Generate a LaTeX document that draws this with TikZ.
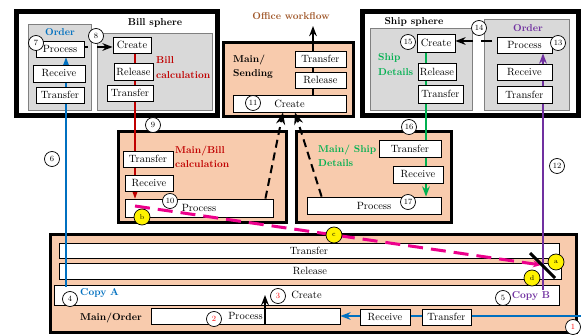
\documentclass[tikz,border=0pt]{standalone}
\usepackage{tikz}
\usetikzlibrary{calc}
\usetikzlibrary{arrows.meta, positioning}
\usepackage{xcolor}
\definecolor{peach}{HTML}{F8CBAD}
\definecolor{sphgrey}{HTML}{D9D9D9}
\definecolor{mblue}{HTML}{0070C0}
\definecolor{mred}{HTML}{C00000}
\definecolor{mgreen}{HTML}{00B050}
\definecolor{mpurple}{HTML}{7030A0}
\definecolor{mbrown}{HTML}{A0582A}
\definecolor{numred}{HTML}{FF0000}
\pgfdeclarelayer{frames}
\pgfdeclarelayer{links}
\pgfsetlayers{frames,links,main}

\begin{document}
\begin{tikzpicture}[
    x=1pt, y=-1pt,
    >=Stealth,
    % Frames
    sphere_box/.style={draw=black, line width=5pt, fill=white, inner sep=0pt},
    grey_box/.style={draw=black!50, fill=sphgrey, line width=0.8pt, inner sep=0pt},
    main_box/.style={draw=black, line width=3pt, fill=peach, inner sep=0pt},
    step_box/.style={draw=black, fill=white, line width=0.8pt, inner sep=0pt, font=\fontsize{10.5}{12}\selectfont},
    % Marks
    num_mark/.style={circle, draw=black, fill=white, line width=0.7pt, inner sep=0pt, minimum size=15pt, font=\footnotesize},
    letter_mark/.style={circle, draw=black, fill=yellow, line width=0.7pt, inner sep=0pt, minimum size=16pt, font=\scriptsize},
    title_label/.style={font=\bfseries, align=left, inner sep=0pt},
    flow_line/.style={line width=1.6pt},
    dash_line/.style={line width=2pt, dash pattern=on 8pt off 5pt}
]
    \useasboundingbox (0,0) rectangle (581,336);

    % --- 1. FRAMES ---
    \begin{pgfonlayer}{frames}
    \node[sphere_box, minimum width=201pt, minimum height=104pt] (bill_sphere) at (116.5,64) {};
    \node[grey_box, minimum width=63pt, minimum height=86pt] (bill_order) at (59.5,67) {};
    \node[grey_box, minimum width=115pt, minimum height=77pt] (bill_calc) at (154.5,71.5) {};

    \node[sphere_box, minimum width=216pt, minimum height=104pt] (ship_sphere) at (470,64) {};
    \node[grey_box, minimum width=102pt, minimum height=82pt] (ship_details) at (421,69) {};
    \node[grey_box, minimum width=85pt, minimum height=91pt] (ship_order) at (526.5,64.5) {};

    \node[main_box, minimum width=130pt, minimum height=74pt] (main_sending) at (288,80) {};
    \node[main_box, minimum width=168pt, minimum height=91pt] (main_bill) at (202,177.5) {};
    \node[main_box, minimum width=155pt, minimum height=91pt] (main_ship) at (373.5,177.5) {};
    \node[main_box, minimum width=526pt, minimum height=98pt] (main_order) at (313,284) {};

    \node[step_box, minimum width=500pt, minimum height=15pt] (o_transfer_bar) at (309,250.5) {Transfer};
    \node[step_box, minimum width=502pt, minimum height=16pt] (o_release_bar) at (310,271) {Release};
    \node[step_box, minimum width=505pt, minimum height=20pt] (o_create_bar) at (306.5,295) {Create};
    \end{pgfonlayer}

    % --- 2. STEPS ---
    \node[step_box, minimum width=48pt, minimum height=16pt] (bo_process) at (60,49) {Process};
    \node[step_box, minimum width=52pt, minimum height=17pt] (bo_receive) at (59,73.5) {Receive};
    \node[step_box, minimum width=48pt, minimum height=16pt] (bo_transfer) at (60,95) {Transfer};
    \node[step_box, minimum width=38pt, minimum height=16pt] (bc_create) at (132,45) {Create};
    \node[step_box, minimum width=39pt, minimum height=17pt] (bc_release) at (133.5,71.5) {Release};
    \node[step_box, minimum width=46pt, minimum height=16pt] (bc_transfer) at (130,93) {Transfer};

    \node[step_box, minimum width=38pt, minimum height=18pt] (sd_create) at (436,43) {Create};
    \node[step_box, minimum width=38pt, minimum height=17pt] (sd_release) at (437,71.5) {Release};
    \node[step_box, minimum width=45pt, minimum height=18pt] (sd_transfer) at (440.5,94) {Transfer};
    \node[step_box, minimum width=55pt, minimum height=16pt] (so_process) at (524.5,45) {Process};
    \node[step_box, minimum width=55pt, minimum height=16pt] (so_receive) at (524.5,72) {Receive};
    \node[step_box, minimum width=55pt, minimum height=17pt] (so_transfer) at (524.5,94.5) {Transfer};

    \node[step_box, minimum width=51pt, minimum height=16pt] (ms_transfer) at (320.5,59) {Transfer};
    \node[step_box, minimum width=51pt, minimum height=16pt] (ms_release) at (320.5,80) {Release};
    \node[step_box, minimum width=113pt, minimum height=17pt] (ms_create) at (289.5,103.5) {Create};

    \node[step_box, minimum width=50pt, minimum height=16pt] (mb_transfer) at (148,159) {Transfer};
    \node[step_box, minimum width=48pt, minimum height=16pt] (mb_receive) at (149,183) {Receive};
    \node[step_box, minimum width=148pt, minimum height=18pt] (mb_process) at (199,208) {Process};

    \node[step_box, minimum width=62pt, minimum height=17pt] (msh_transfer) at (410,148.5) {Transfer};
    \node[step_box, minimum width=50pt, minimum height=17pt] (msh_receive) at (418,174.5) {Receive};
    \node[step_box, minimum width=134pt, minimum height=17pt] (msh_process) at (374,205.5) {Process};

    \node[step_box, minimum width=189pt, minimum height=16pt] (o_process) at (245.5,316) {Process};
    \node[step_box, minimum width=50pt, minimum height=16pt] (o_receive) at (385,317) {Receive};
    \node[step_box, minimum width=49pt, minimum height=16pt] (o_transfer) at (446.5,317) {Transfer};

    % --- 3. LABELS ---
    \node[title_label] (bill_title) at (155,23) {Bill sphere};
    \node[title_label, text=mblue] (bill_order_title) at (60,32) {Order};
    \node[title_label, text=mred, anchor=west] (bill_calc_title) at (156,67.5) {Bill\\[2.5pt]calculation};
    \node[title_label, text=mbrown] (office_title) at (291,16) {Office workflow};
    \node[title_label, anchor=west] (sending_title) at (233,67) {Main/\\[2pt]Sending};
    \node[title_label] (ship_title) at (414,22) {Ship sphere};
    \node[title_label, text=mgreen, anchor=west] (ship_details_title) at (378,64.5) {Ship\\[2.5pt]Details};
    \node[title_label, text=mpurple] (ship_order_title) at (528,28) {Order};
    \node[title_label, text=mred, anchor=west] (main_bill_title) at (175,156.5) {Main/Bill\\[2pt]calculation};
    \node[title_label, text=mgreen, anchor=west] (main_ship_title) at (318,156) {Main/ Ship\\[2pt]Details};
    \node[title_label] (main_order_title) at (111,318) {Main/Order};
    \node[title_label, text=mblue, anchor=west] (copy_a_title) at (80,293) {Copy A};
    \node[title_label, text=mpurple] (copy_b_title) at (531,296) {Copy B};

    % --- 4. LINKS ---
    \coordinate (copy_a) at (66,287);
    \coordinate (copy_b) at (543,290);
    \coordinate (order_in) at (581,316);
    \coordinate (office_out) at (313,26);
    \coordinate (bill_cut) at (88,47);
    \coordinate (ship_cut) at (481,41);
    \coordinate (order_up) at (265,325);

    \begin{pgfonlayer}{links}
    \draw[flow_line, draw=mblue, ->] (copy_a) -- (copy_a |- bo_process.south);
    \draw[flow_line, draw=mblue, ->] (order_in) -- (o_process.east);
    \draw[flow_line, draw=mred, ->] ([xshift=3pt]bc_create.south) -- ([xshift=3pt]bc_create.south |- mb_process.north);
    \draw[flow_line, draw=mgreen, ->] ([xshift=-10pt]sd_create.south) -- ([xshift=-10pt]sd_create.south |- msh_process.north);
    \draw[flow_line, draw=mpurple, ->] (copy_b) -- (copy_b |- so_process.south);
    \draw[flow_line, ->] (office_out |- ms_create.north) -- (office_out);

    \draw[flow_line] (bo_process.east |- bill_cut) -- (bill_cut);
    \draw[flow_line, ->] ([xshift=9pt]bill_cut) -- (bc_create.west |- bill_cut);
    \draw[flow_line] ([xshift=11pt]ship_cut) -- (ship_cut);
    \draw[flow_line, ->] ([xshift=-8pt]ship_cut) -- (sd_create.east |- ship_cut);

    \draw[dash_line, ->] ([xshift=-8pt]mb_process.north east) -- ([xshift=-6.5pt]ms_create.south);
    \draw[dash_line, ->] ([xshift=15pt]msh_process.north west) -- ([xshift=5.5pt]ms_create.south);
    \end{pgfonlayer}

    \draw[flow_line, ->] (order_up) -- (order_up |- o_create_bar.center);

    % Magenta dashed path and slash
    \coordinate (mag_start) at (135,206);
    \coordinate (mag_end) at (541,265);
    \draw[draw=magenta, line width=3pt, dash pattern=on 15pt off 8pt, -{Stealth[length=8pt,width=7pt]}] (mag_start) -- (mag_end);
    \coordinate (cut_top) at (530,253);
    \coordinate (cut_bottom) at (555,278);
    \draw[line width=3pt] (cut_top) -- (cut_bottom);

    % --- 5. NUMBERS ---
    \node[num_mark, text=numred] (n1) at (573,327) {1};
    \node[num_mark, text=numred] (n2) at (214,319) {2};
    \node[num_mark, text=numred] (n3) at (278,296) {3};
    \node[num_mark] (n4) at (70,299) {4};
    \node[num_mark] (n5) at (503,298) {5};
    \node[num_mark] (n6) at (52,159) {6};
    \node[num_mark] (n7) at (36,43) {7};
    \node[num_mark] (n8) at (96,36) {8};
    \node[num_mark] (n9) at (153,125) {9};
    \node[num_mark] (n10) at (170,201) {10};
    \node[num_mark] (n11) at (253,103) {11};
    \node[num_mark] (n12) at (557,166) {12};
    \node[num_mark] (n13) at (558,43) {13};
    \node[num_mark] (n14) at (479,28) {14};
    \node[num_mark] (n15) at (408,42) {15};
    \node[num_mark] (n16) at (409,127) {16};
    \node[num_mark] (n17) at (408,202) {17};

    \node[letter_mark] (ma) at (556,262) {a};
    \node[letter_mark] (mb) at (142,217) {b};
    \node[letter_mark] (mc) at (334,235) {c};
    \node[letter_mark] (md) at (532,278) {d};

\end{tikzpicture}
\end{document}
